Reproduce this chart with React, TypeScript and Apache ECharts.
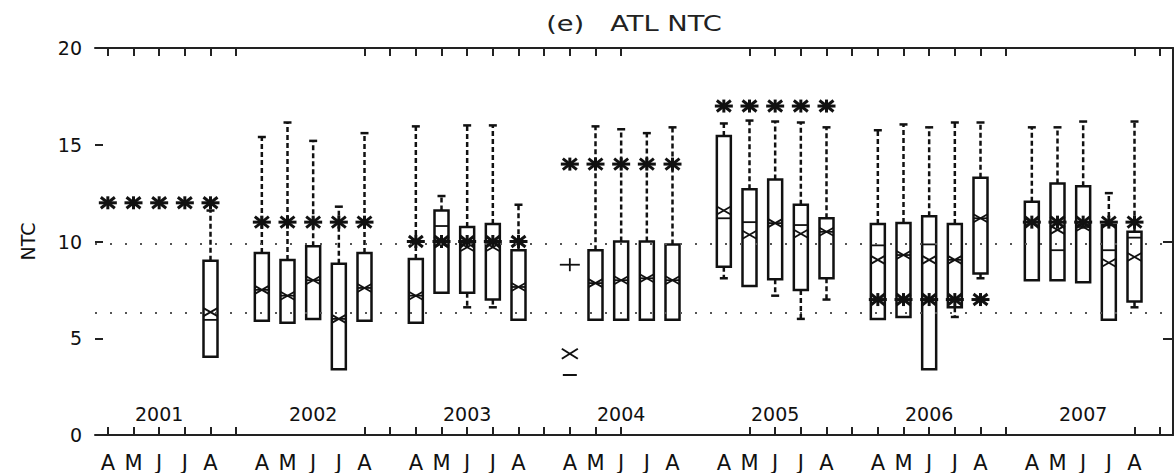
import React, { useEffect, useRef } from "react";
import * as echarts from "echarts";

const years = ["2001", "2002", "2003", "2004", "2005", "2006", "2007"];
const months = ["A", "M", "J", "J", "A"];
const slotsPerYear = 6;
const slotCount = 42;
// slots that carry tick marks on the top and bottom axes
const tickSlots = [0, 1, 2, 3, 4, 5, 10, 11, 12, 13, 14, 15, 16, 17, 18, 19, 20, 25, 26, 27, 28, 29, 30, 31, 32, 33, 34, 35, 40, 41];

// box statistics, year by year, months A M J J A (null = no box)
const boxMin = [
  null, null, null, null, 4.05,
  5.9, 5.8, 6.0, 3.4, 5.9,
  5.8, 7.35, 6.6, 6.6, 5.95,
  null, 5.95, 5.95, 5.95, 5.95,
  8.1, 7.7, 7.2, 6.0, 7.0,
  6.0, 6.1, 3.4, 6.1, 8.1,
  8.0, 8.0, 7.9, 5.95, 6.6,
];
const boxQ1 = [
  null, null, null, null, 4.05,
  5.9, 5.8, 6.0, 3.4, 5.9,
  5.8, 7.35, 7.35, 7.0, 5.95,
  null, 5.95, 5.95, 5.95, 5.95,
  8.7, 7.7, 8.05, 7.5, 8.1,
  6.0, 6.1, 3.4, 6.6, 8.35,
  8.0, 8.0, 7.9, 5.95, 6.9,
];
const boxMedian = [
  null, null, null, null, 5.95,
  7.5, 7.2, 8.0, 6.0, 7.6,
  7.2, 10.8, 10.0, 10.0, 7.65,
  null, 7.85, 8.0, 8.1, 8.0,
  11.2, 11.0, 10.95, 10.85, 10.5,
  9.8, 9.3, 9.85, 9.05, 11.2,
  11.0, 9.55, 10.75, 9.55, 10.2,
];
const boxQ3 = [
  null, null, null, null, 9.0,
  9.4, 9.05, 9.75, 8.85, 9.4,
  9.1, 11.6, 10.75, 10.9, 9.55,
  null, 9.55, 10.0, 10.0, 9.85,
  15.45, 12.7, 13.2, 11.9, 11.2,
  10.9, 10.95, 11.3, 10.9, 13.3,
  12.05, 13.0, 12.85, 10.85, 10.5,
];
const boxMax = [
  null, null, null, null, 11.6,
  15.4, 16.15, 15.2, 11.8, 15.6,
  15.95, 12.35, 16.0, 16.0, 11.9,
  null, 15.95, 15.8, 15.6, 15.9,
  16.1, 16.25, 16.2, 16.15, 15.9,
  15.75, 16.05, 15.9, 16.15, 16.15,
  15.9, 15.9, 16.2, 12.5, 16.2,
];
const boxMean = [
  null, null, null, null, 6.35,
  7.5, 7.2, 8.0, 6.0, 7.6,
  7.2, 9.9, 9.7, 9.7, 7.65,
  null, 7.85, 8.0, 8.1, 8.0,
  11.6, 10.35, 10.95, 10.4, 10.5,
  9.05, 9.3, 9.05, 9.05, 11.2,
  11.0, 10.6, 10.75, 8.9, 9.2,
];

// asterisk level for each year (drawn over each month)
const asteriskLevel = [12, 11, 10, 14, 17, 7, 11];
// single markers for 2004 April: [yearIndex, monthIndex, value]
const plusMarkers = [[3, 0, 8.8]];
const crossMarkers = [[3, 0, 4.2]];
const dashMarkers = [[3, 0, 3.1]];

// reference dotted levels
const refLevels = [9.9, 6.3];

const FONT = "DejaVu Sans";
const INK = "#111";

const slot = (y: number, m: number) => y * slotsPerYear + m;

export default function App() {
  const ref = useRef<HTMLDivElement>(null);

  useEffect(() => {
    if (!ref.current) return;
    const chart = echarts.init(ref.current, null, { renderer: "svg" });

    const slotNames = Array.from({ length: slotCount }, (_, i) => String(i));
    const tickSet = new Set(tickSlots);

    const boxData: number[][] = [];
    for (let i = 0; i < boxMin.length; i++) {
      if (boxMin[i] == null) continue;
      const y = Math.floor(i / 5);
      const m = i % 5;
      boxData.push([
        slot(y, m),
        boxMin[i] as number,
        boxQ1[i] as number,
        boxMedian[i] as number,
        boxQ3[i] as number,
        boxMax[i] as number,
        boxMean[i] as number,
      ]);
    }

    const markData: number[][] = [];
    asteriskLevel.forEach((v, y) => {
      for (let m = 0; m < 5; m++) markData.push([slot(y, m), v, 0]);
    });
    plusMarkers.forEach(([y, m, v]) => markData.push([slot(y, m), v, 1]));
    crossMarkers.forEach(([y, m, v]) => markData.push([slot(y, m), v, 2]));
    dashMarkers.forEach(([y, m, v]) => markData.push([slot(y, m), v, 3]));

    const ln = (x1: number, y1: number, x2: number, y2: number, w: number, dash?: number[]) => ({
      type: "line",
      shape: { x1, y1, x2, y2 },
      style: { stroke: INK, lineWidth: w, lineDash: dash || null, fill: null },
    });

    const tickStyle = { color: "#222", width: 2 };

    const option: any = {
      animation: false,
      backgroundColor: "#fff",
      textStyle: { fontFamily: FONT },
      graphic: [
        {
          type: "text",
          x: 634,
          y: 24,
          scaleX: 1.3,
          style: {
            text: "(e)   ATL NTC",
            fontSize: 21,
            fontFamily: FONT,
            fill: "#222",
            align: "center",
            verticalAlign: "middle",
          },
        },
      ],
      grid: { left: 95, right: 3, top: 48, bottom: 38 },
      xAxis: [
        {
          type: "category",
          data: slotNames,
          position: "bottom",
          boundaryGap: true,
          axisLine: { show: true, lineStyle: tickStyle },
          axisTick: {
            show: true,
            inside: true,
            length: 8,
            alignWithLabel: true,
            interval: (i: number) => tickSet.has(i),
            lineStyle: tickStyle,
          },
          axisLabel: {
            interval: 0,
            margin: 17,
            fontSize: 21,
            color: INK,
            fontFamily: FONT,
            formatter: (_v: string, i: number) => {
              const m = i % slotsPerYear;
              return m < 5 ? months[m] : "";
            },
          },
          splitLine: { show: false },
        },
        {
          type: "category",
          data: slotNames,
          position: "bottom",
          boundaryGap: true,
          axisLine: { show: false },
          axisTick: { show: false },
          axisLabel: {
            inside: true,
            interval: 0,
            margin: 12,
            fontSize: 19,
            color: INK,
            fontFamily: FONT,
            formatter: (_v: string, i: number) =>
              i % slotsPerYear === 2 ? years[Math.floor(i / slotsPerYear)] : "",
          },
          splitLine: { show: false },
        },
        {
          type: "category",
          data: slotNames,
          position: "top",
          boundaryGap: true,
          axisLine: { show: true, lineStyle: tickStyle },
          axisTick: {
            show: true,
            inside: true,
            length: 8,
            alignWithLabel: true,
            interval: (i: number) => tickSet.has(i),
            lineStyle: tickStyle,
          },
          axisLabel: { show: false },
          splitLine: { show: false },
        },
      ],
      yAxis: [
        {
          type: "value",
          min: 0,
          max: 20,
          interval: 5,
          position: "left",
          axisLine: { show: false },
          axisTick: { show: true, inside: true, length: 8, lineStyle: tickStyle },
          axisLabel: { margin: 13, fontSize: 19, color: INK, fontFamily: FONT },
          splitLine: { show: false },
          name: "NTC",
          nameLocation: "middle",
          nameGap: 58,
          nameRotate: 90,
          nameTextStyle: { fontSize: 19, color: INK, fontFamily: FONT },
        },
        {
          type: "category",
          data: ["0", "5", "10", "15", "20"],
          boundaryGap: false,
          position: "right",
          axisLine: { show: true, lineStyle: tickStyle },
          axisTick: {
            show: true,
            inside: true,
            length: 10,
            interval: (i: number) => i === 1 || i === 2,
            lineStyle: tickStyle,
          },
          axisLabel: { show: false },
          splitLine: { show: false },
        },
      ],
      series: [
        {
          type: "line",
          data: [],
          z: 1,
          xAxisIndex: 0,
          yAxisIndex: 0,
          markLine: {
            silent: true,
            symbol: ["none", "none"],
            label: { show: false },
            lineStyle: { type: [2, 13], color: "#555", width: 2 },
            data: refLevels.map((v) => ({ yAxis: v })),
          },
        },
        {
          type: "custom",
          z: 3,
          xAxisIndex: 0,
          yAxisIndex: 0,
          encode: { x: 0, y: [1, 2, 3, 4, 5] },
          data: boxData,
          renderItem: (_p: any, api: any) => {
            const s = api.value(0);
            const pMin = api.coord([s, api.value(1)]);
            const pQ1 = api.coord([s, api.value(2)]);
            const pMd = api.coord([s, api.value(3)]);
            const pQ3 = api.coord([s, api.value(4)]);
            const pMax = api.coord([s, api.value(5)]);
            const pMean = api.coord([s, api.value(6)]);
            const cx = pMin[0];
            const hw = 7;
            const children: any[] = [];
            children.push(ln(cx, pQ3[1], cx, pMax[1], 2.5, [5, 3]));
            children.push(ln(cx - 4, pMax[1], cx + 4, pMax[1], 2.5));
            if (api.value(1) < api.value(2)) {
              children.push(ln(cx, pQ1[1], cx, pMin[1], 2.5, [5, 3]));
              children.push(ln(cx - 4, pMin[1], cx + 4, pMin[1], 2.5));
            }
            children.push({
              type: "rect",
              shape: { x: cx - hw, y: pQ3[1], width: hw * 2, height: pQ1[1] - pQ3[1] },
              style: { fill: "#fff", stroke: INK, lineWidth: 2.5 },
            });
            children.push(ln(cx - hw, pMd[1], cx + hw, pMd[1], 1.8));
            children.push(ln(cx - hw, pMean[1] - 4, cx + hw, pMean[1] + 4, 1.8));
            children.push(ln(cx - hw, pMean[1] + 4, cx + hw, pMean[1] - 4, 1.8));
            return { type: "group", children };
          },
        },
        {
          type: "custom",
          z: 4,
          xAxisIndex: 0,
          yAxisIndex: 0,
          encode: { x: 0, y: 1 },
          data: markData,
          renderItem: (_p: any, api: any) => {
            const p = api.coord([api.value(0), api.value(1)]);
            const kind = api.value(2);
            const [x, y] = p;
            let children: any[] = [];
            if (kind === 0) {
              children = [
                ln(x - 9, y, x + 9, y, 3),
                ln(x, y - 6.5, x, y + 6.5, 3),
                ln(x - 7, y - 5.5, x + 7, y + 5.5, 3),
                ln(x - 7, y + 5.5, x + 7, y - 5.5, 3),
              ];
            } else if (kind === 1) {
              children = [ln(x - 10, y, x + 10, y, 1.8), ln(x, y - 6.5, x, y + 6.5, 1.8)];
            } else if (kind === 2) {
              children = [ln(x - 8, y - 5, x + 8, y + 5, 2), ln(x - 8, y + 5, x + 8, y - 5, 2)];
            } else {
              children = [ln(x - 7, y, x + 7, y, 2)];
            }
            return { type: "group", children };
          },
        },
      ],
    };

    chart.setOption(option);
    return () => chart.dispose();
  }, []);

  return (
    <div
      ref={ref}
      style={{ position: "absolute", left: 0, top: 0, width: 1176, height: 473, background: "#fff" }}
    />
  );
}
